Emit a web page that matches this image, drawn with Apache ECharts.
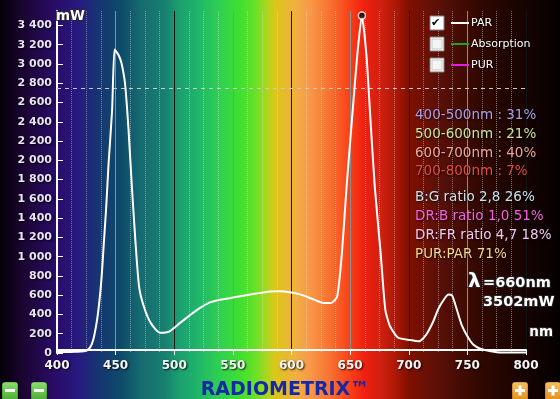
<!DOCTYPE html>
<html><head><meta charset="utf-8">
<script src="https://cdn.jsdelivr.net/npm/echarts@6/dist/echarts.min.js"></script>
<style>html,body{margin:0;padding:0;background:#000;}#c{width:560px;height:399px;}</style>
</head><body><div id="c"></div>
<script>
// ---- data ----
const wavelengths = [400,405,410,415,420,424,428,431,434,436,438,440,442,444,447,449,451,453,455,458,461,464,467,470,474,480,488,496,505,516,522,530,540,550,560,570,580,590,600,608,619,627,634,639,643,647,652,656,660,664,667,671,676,680,684,691,701,709,715,721,725,730,734,737,741,745,750,755,761,767,775,785,800];
const powerMW = [10,10,10,12,15,20,54,140,330,520,780,1150,1520,1970,2520,3150,3120,3080,3010,2800,2320,1700,1140,690,485,310,210,225,313,417,469,523,555,575,596,617,637,640,627,606,555,520,520,589,1039,1729,2490,3077,3502,3077,2490,1729,1039,451,278,158,135,122,192,330,451,555,606,596,451,295,174,88,44,25,8,5,5];
const peakPoint = [660, 3502];
const referenceLevel = 2750;
const yTickValues = [0,200,400,600,800,1000,1200,1400,1600,1800,2000,2200,2400,2600,2800,3000,3200,3400];
const legendNames = ['PAR', 'Absorption', 'PUR'];
const legendChecked = [true, false, false];
const statLines = ['400-500nm : 31%', '500-600nm : 21%', '600-700nm : 40%', '700-800nm : 7%', 'B:G ratio 2,8 26%', 'DR:B ratio 1,0 51%', 'DR:FR ratio 4,7 18%', 'PUR:PAR 71%'];
const peakLabel = ['λ', '=660nm', '3502mW'];
const yUnit = 'mW';
const xUnit = 'nm';
const brand = 'RADIOMETRIX™';

// ---- styles ----
const statColors = ['#ab9ce8', '#c6e49a', '#f0a49a', '#e44c3e', '#c6e0ec', '#f462e2', '#f2c6f0', '#f6d68c'];
const statY = [115, 134, 153, 171, 197, 216, 235, 254];
const legendY = [23, 44, 65];
const legendColors = ['#ffffff', '#22a022', '#e020e0'];

const shadowTxt = { textShadowColor: 'rgba(0,0,0,0.9)', textShadowBlur: 2, textShadowOffsetX: 1, textShadowOffsetY: 1 };
const graphics = [];

legendNames.forEach((n, i) => {
  graphics.push({ type: 'rect', shape: { x: 430, y: legendY[i] - 7, width: 14, height: 14 }, style: { fill: '#ffffff', stroke: '#808080', lineWidth: 1 }, z: 20 });
  if (!legendChecked[i]) {
    graphics.push({ type: 'rect', shape: { x: 432, y: legendY[i] - 5, width: 10, height: 10 }, style: { fill: '#f4f4f4', stroke: '#c8c8c8', lineWidth: 1 }, z: 21 });
  } else {
    graphics.push({ type: 'text', x: 431, y: legendY[i], style: { text: '✔', fill: '#000', font: 'bold 11px "DejaVu Sans"', textVerticalAlign: 'middle' }, z: 21 });
  }
  graphics.push({ type: 'line', shape: { x1: 451, y1: legendY[i], x2: 469, y2: legendY[i] }, style: { stroke: legendColors[i], lineWidth: 2 }, z: 20 });
  graphics.push({ type: 'text', x: 471, y: legendY[i], style: Object.assign({ text: n, fill: '#ffffff', font: '11px "DejaVu Sans"', textVerticalAlign: 'middle' }, shadowTxt), z: 20 });
});

statLines.forEach((t, i) => {
  graphics.push({ type: 'text', x: 415, y: statY[i], style: Object.assign({ text: t, fill: statColors[i], font: '13.5px "DejaVu Sans"', textVerticalAlign: 'middle' }, shadowTxt), z: 20 });
});

const boldWhite = (t, x, y, size, align) => ({ type: 'text', x: x, y: y, style: { text: t, fill: '#ffffff', font: 'bold ' + size + 'px "DejaVu Sans"', textAlign: align || 'left', textVerticalAlign: 'middle', stroke: 'rgba(40,40,40,0.9)', lineWidth: 2 }, z: 20 });
graphics.push(boldWhite(peakLabel[0], 468, 282, 20));
graphics.push(boldWhite(peakLabel[1], 483, 283, 14.5));
graphics.push(boldWhite(peakLabel[2], 483, 302, 14.5));
graphics.push(boldWhite(xUnit, 553, 332, 13.5, 'right'));
graphics.push(boldWhite(yUnit, 56, 16, 13.5));

graphics.push({ type: 'text', x: 285, y: 390, style: { text: brand, fill: '#1428a8', font: 'bold 19px "DejaVu Sans"', textAlign: 'center', textVerticalAlign: 'middle' }, z: 20 });

// buttons
function button(x, base, light, plus) {
  graphics.push({ type: 'rect', shape: { x: x, y: 382, width: 16, height: 20, r: 3 }, style: { fill: new echarts.graphic.LinearGradient(0, 0, 0, 1, [{ offset: 0, color: light }, { offset: 1, color: base }]), stroke: 'rgba(0,0,0,0.3)', lineWidth: 1 }, z: 20 });
  graphics.push({ type: 'rect', shape: { x: x + 3, y: 389, width: 10, height: 3 }, style: { fill: '#ffffff' }, z: 21 });
  if (plus) graphics.push({ type: 'rect', shape: { x: x + 6.5, y: 385.5, width: 3, height: 10 }, style: { fill: '#ffffff' }, z: 21 });
}
button(2, '#3fa82a', '#8de070', false);
button(31, '#3fa82a', '#8de070', false);
button(512, '#e08a18', '#f8c060', true);
button(545, '#e08a18', '#f8c060', true);

const bg = {
  type: 'linear', x: 0, y: 0, x2: 1, y2: 0,
  colorStops: [
    { offset: 0, color: '#050008' }, { offset: 0.04, color: '#1a0530' }, { offset: 0.1, color: '#2a0c68' },
    { offset: 0.14, color: '#261a80' }, { offset: 0.18, color: '#153870' }, { offset: 0.215, color: '#0e4a6a' },
    { offset: 0.25, color: '#156a70' }, { offset: 0.295, color: '#188070' }, { offset: 0.32, color: '#1aa070' },
    { offset: 0.357, color: '#20b868' }, { offset: 0.393, color: '#30d050' }, { offset: 0.43, color: '#40e030' },
    { offset: 0.455, color: '#68e028' }, { offset: 0.473, color: '#a0d820' }, { offset: 0.49, color: '#d8c818' },
    { offset: 0.5, color: '#e0c020' }, { offset: 0.527, color: '#f0b040' }, { offset: 0.554, color: '#f89848' },
    { offset: 0.59, color: '#f87030' }, { offset: 0.625, color: '#f84018' }, { offset: 0.65, color: '#f02010' },
    { offset: 0.68, color: '#d02010' }, { offset: 0.705, color: '#b01808' }, { offset: 0.73, color: '#801000' },
    { offset: 0.786, color: '#581008' }, { offset: 0.857, color: '#300800' }, { offset: 0.93, color: '#180400' },
    { offset: 1, color: '#050000' }
  ]
};

const chart = echarts.init(document.getElementById('c'), null, { renderer: 'canvas' });
chart.setOption({
  animation: false,
  backgroundColor: bg,
  grid: { left: 57, right: 34, top: 11, bottom: 46, containLabel: false },
  xAxis: {
    type: 'value', min: 400, max: 800, interval: 50, offset: -3,
    axisLine: { show: true, lineStyle: { color: '#ffffff', width: 2 } },
    axisTick: { show: true, length: 5, lineStyle: { color: '#ffffff', width: 1 } },
    axisLabel: Object.assign({ color: '#f4f4f4', fontFamily: 'DejaVu Sans', fontWeight: 'bold', fontSize: 12, margin: 10 }, shadowTxt),
    splitLine: { show: true, lineStyle: { color: ['#141414', '#8c8c8c'], width: 1 } },
    minorTick: { show: false, splitNumber: 4 },
    minorSplitLine: { show: true, lineStyle: { color: 'rgba(230,230,230,0.45)', type: 'dotted', width: 1 } }
  },
  yAxis: {
    type: 'value', min: 0, max: 3550, interval: 200,
    axisLine: { show: true, lineStyle: { color: '#ffffff', width: 2 } },
    axisTick: { show: true, inside: true, length: 6, customValues: yTickValues, lineStyle: { color: '#ffffff', width: 1 } },
    axisLabel: Object.assign({ customValues: yTickValues, color: '#e8e2f2', fontFamily: 'DejaVu Sans', fontWeight: 'bold', fontSize: 11, margin: 5,
      formatter: v => String(v).replace(/\B(?=(\d{3})+(?!\d))/g, ' ') }, shadowTxt),
    splitLine: { show: false }
  },
  series: [
    {
      type: 'line', name: 'PAR', data: wavelengths.map((w, i) => [w, powerMW[i]]),
      showSymbol: false, smooth: 0.2, lineStyle: { color: '#ffffff', width: 2 }, z: 5,
      markLine: { silent: true, symbol: 'none', label: { show: false }, lineStyle: { color: '#c8c8c8', type: [4, 4], width: 1 }, data: [{ yAxis: referenceLevel }] }
    },
    {
      type: 'scatter', data: [peakPoint], symbolSize: 7, z: 6,
      itemStyle: { color: '#000000', borderColor: '#ffffff', borderWidth: 1.5 }
    }
  ],
  graphic: { elements: graphics }
});
</script>
</body></html>
